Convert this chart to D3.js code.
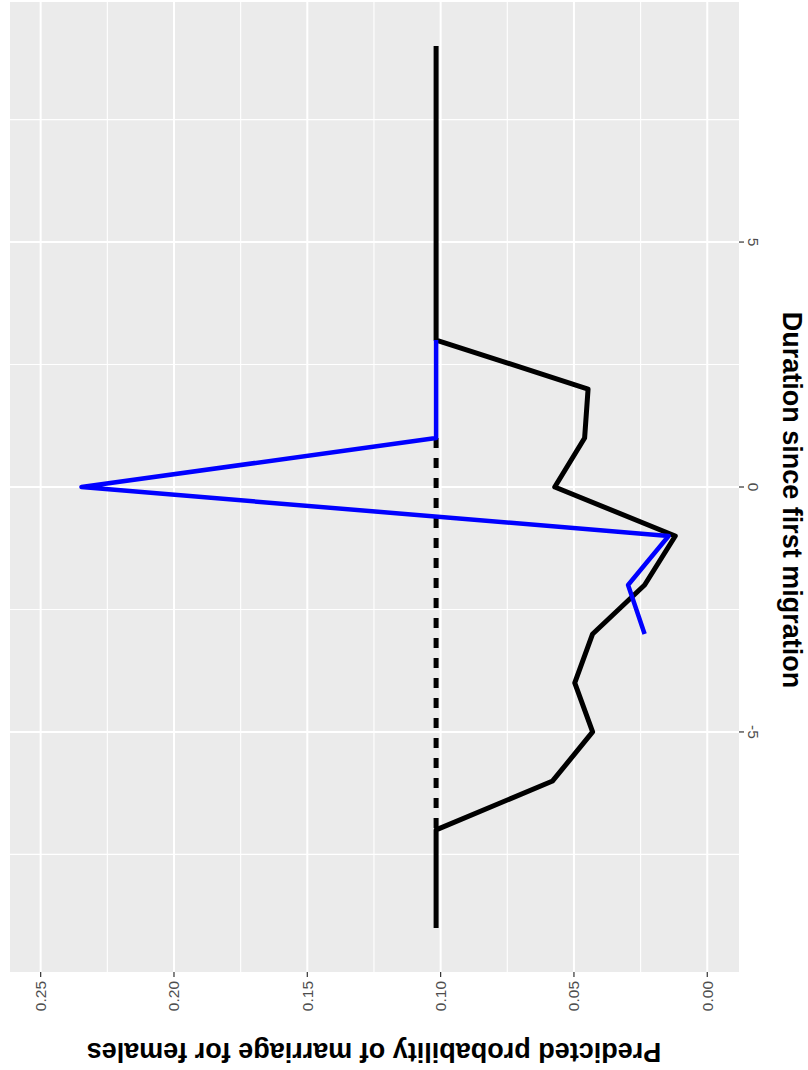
<!DOCTYPE html>
<html>
<head>
<meta charset="utf-8">
<script src="https://cdn.jsdelivr.net/npm/d3@7"></script>
<style>
  html, body { margin: 0; padding: 0; background: #ffffff; }
  svg { display: block; font-family: "Liberation Sans", Arial, sans-serif; }
</style>
</head>
<body>
<svg id="chart" width="808" height="1070"></svg>
<script>
// Duration since first migration (years) and predicted marriage probability
const durationAll = [9, 8, 7, 6, 5, 4, 3, 2, 1, 0, -1, -2, -3, -4, -5, -6, -7, -8, -9];
const probAll     = [0.1017, 0.1017, 0.1017, 0.1017, 0.1017, 0.1017, 0.1017, 0.0447, 0.046, 0.0572,
                     0.012, 0.0235, 0.043, 0.0497, 0.043, 0.058, 0.1017, 0.1017, 0.1017];

// Migrants series (blue)
const durationMig = [3, 2, 1, 0, -1, -2, -3];
const probMig     = [0.1017, 0.1017, 0.1017, 0.2347, 0.0145, 0.0297, 0.0235];

// Reference level (dashed)
const durationRef = [1, -7];
const probRef     = [0.1017, 0.1017];

const probTicks  = [0.25, 0.20, 0.15, 0.10, 0.05, 0.00];
const probMinor  = [0.225, 0.175, 0.125, 0.075, 0.025];
const durTicks   = [-5, 0, 5];
const durMinor   = [-7.5, -2.5, 2.5, 7.5];

const yTitle = "Predicted probability of marriage for females";
const xTitle = "Duration since first migration";

const svg = d3.select("#chart");

// Panel area
const panel = { left: 10, right: 739, top: 2, bottom: 972 };

// Probability runs right-to-left, duration runs bottom-to-top
const px = d3.scaleLinear().domain([0.2615, -0.0119]).range([panel.left, panel.right]);
const py = d3.scaleLinear().domain([9.9, -9.9]).range([panel.top, panel.bottom]);

svg.append("rect")
  .attr("x", panel.left).attr("y", panel.top)
  .attr("width", panel.right - panel.left).attr("height", panel.bottom - panel.top)
  .attr("fill", "#EBEBEB");

const grid = svg.append("g");
grid.selectAll(".pminor").data(probMinor).join("line")
  .attr("x1", d => px(d)).attr("x2", d => px(d))
  .attr("y1", panel.top).attr("y2", panel.bottom)
  .attr("stroke", "#ffffff").attr("stroke-width", 1.1);
grid.selectAll(".dminor").data(durMinor).join("line")
  .attr("y1", d => py(d)).attr("y2", d => py(d))
  .attr("x1", panel.left).attr("x2", panel.right)
  .attr("stroke", "#ffffff").attr("stroke-width", 1.1);
grid.selectAll(".pmajor").data(probTicks).join("line")
  .attr("x1", d => px(d)).attr("x2", d => px(d))
  .attr("y1", panel.top).attr("y2", panel.bottom)
  .attr("stroke", "#ffffff").attr("stroke-width", 2);
grid.selectAll(".dmajor").data(durTicks).join("line")
  .attr("y1", d => py(d)).attr("y2", d => py(d))
  .attr("x1", panel.left).attr("x2", panel.right)
  .attr("stroke", "#ffffff").attr("stroke-width", 2);

const line = d3.line().x(d => px(d[1])).y(d => py(d[0]));

svg.append("path")
  .datum(d3.zip(durationRef, probRef))
  .attr("d", line)
  .attr("fill", "none").attr("stroke", "#000000")
  .attr("stroke-width", 5).attr("stroke-dasharray", "10,10");

svg.append("path")
  .datum(d3.zip(durationAll, probAll))
  .attr("d", line)
  .attr("fill", "none").attr("stroke", "#000000")
  .attr("stroke-width", 5).attr("stroke-linejoin", "round");

svg.append("path")
  .datum(d3.zip(durationMig, probMig))
  .attr("d", line)
  .attr("fill", "none").attr("stroke", "#0000FF")
  .attr("stroke-width", 4.5).attr("stroke-linejoin", "round");

// Probability axis along the bottom (labels rotated)
const axP = svg.append("g");
axP.selectAll("line").data(probTicks).join("line")
  .attr("x1", d => px(d)).attr("x2", d => px(d))
  .attr("y1", panel.bottom).attr("y2", panel.bottom + 5)
  .attr("stroke", "#333333").attr("stroke-width", 1.2);
axP.selectAll("text").data(probTicks).join("text")
  .attr("transform", d => `translate(${px(d) + 5.5},${panel.bottom + 9}) rotate(-90)`)
  .attr("text-anchor", "end")
  .attr("font-size", 15.5)
  .attr("fill", "#4D4D4D")
  .text(d => d3.format(".2f")(d));

// Duration axis along the right (labels rotated)
const axD = svg.append("g");
axD.selectAll("line").data(durTicks).join("line")
  .attr("y1", d => py(d)).attr("y2", d => py(d))
  .attr("x1", panel.right).attr("x2", panel.right + 5)
  .attr("stroke", "#333333").attr("stroke-width", 1.2);
axD.selectAll("text").data(durTicks).join("text")
  .attr("transform", d => `translate(${panel.right + 9},${py(d)}) rotate(90)`)
  .attr("text-anchor", "middle")
  .attr("font-size", 15.5)
  .attr("fill", "#4D4D4D")
  .text(d => d);

// Axis titles
svg.append("text")
  .attr("transform", `translate(374,1043) rotate(180)`)
  .attr("text-anchor", "middle")
  .attr("font-size", 27).attr("font-weight", "bold")
  .attr("fill", "#000000")
  .text(yTitle);

svg.append("text")
  .attr("transform", `translate(783,500) rotate(90)`)
  .attr("text-anchor", "middle")
  .attr("font-size", 27).attr("font-weight", "bold")
  .attr("fill", "#000000")
  .text(xTitle);
</script>
</body>
</html>
